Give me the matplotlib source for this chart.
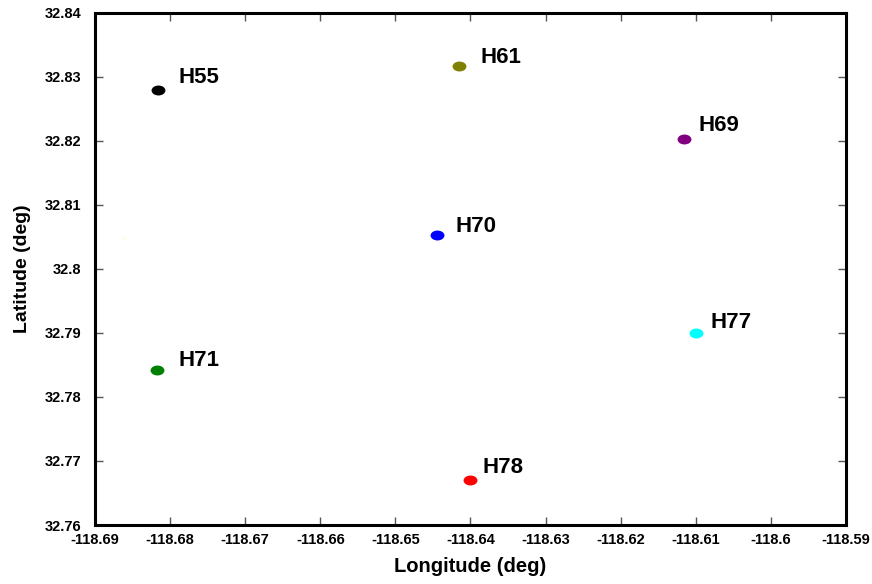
import matplotlib
matplotlib.use("Agg")
import matplotlib.pyplot as plt
from matplotlib.path import Path
from matplotlib.transforms import Affine2D

# station positions
names = ["H55", "H61", "H69", "H70", "H77", "H71", "H78"]
lons = [-118.6816, -118.6415, -118.6116, -118.6444, -118.6099, -118.6817, -118.6401]
lats = [32.8280, 32.8317, 32.8203, 32.8053, 32.7900, 32.7842, 32.7670]
colors = ["black", "#808000", "#800080", "blue", "cyan", "green", "red"]

# label offsets from each marker, in points
label_dx = [14.5, 15, 11, 13, 10, 15, 9.5]
label_dy = [5, 2, 6, 2, 3.5, 3, 5]

# faint unlabeled point
extra_lon = [-118.6861]
extra_lat = [32.8048]

xticks = [-118.69, -118.68, -118.67, -118.66, -118.65, -118.64, -118.63,
          -118.62, -118.61, -118.6, -118.59]
xticklabels = ["-118.69", "-118.68", "-118.67", "-118.66", "-118.65", "-118.64",
               "-118.63", "-118.62", "-118.61", "-118.6", "-118.59"]
yticks = [32.76, 32.77, 32.78, 32.79, 32.8, 32.81, 32.82, 32.83, 32.84]
yticklabels = ["32.76", "32.77", "32.78", "32.79", "32.8", "32.81", "32.82", "32.83", "32.84"]

plt.rcParams['font.family'] = ['Liberation Sans', 'DejaVu Sans']
plt.rcParams['font.weight'] = 'bold'

fig = plt.figure(figsize=(8.72, 5.84), dpi=100)
ax = fig.add_axes([0.109, 0.101, 0.861, 0.877])

ellipse = Path.unit_circle().transformed(Affine2D().scale(1.4, 1.0))

for name, x, y, c, dx, dy in zip(names, lons, lats, colors, label_dx, label_dy):
    ax.plot([x], [y], linestyle='none', marker=ellipse, markersize=10,
            color=c, markeredgewidth=0)
    ax.annotate(name, (x, y), xytext=(dx, dy), textcoords='offset points',
                fontsize=16, fontweight='bold', color='black')

ax.plot(extra_lon, extra_lat, linestyle='none', marker='o', markersize=1.5,
        color='#ffff99', markeredgewidth=0)

ax.set_xlim(-118.69, -118.59)
ax.set_ylim(32.76, 32.84)
ax.set_xticks(xticks)
ax.set_xticklabels(xticklabels)
ax.set_yticks(yticks)
ax.set_yticklabels(yticklabels)
ax.tick_params(direction='in', length=6, width=1, color='#555555',
               top=True, right=True, labelsize=10.5)
ax.tick_params(axis='x', pad=6)
ax.tick_params(axis='y', pad=10)
for lbl in ax.get_xticklabels() + ax.get_yticklabels():
    lbl.set_fontweight('bold')
for s in ax.spines.values():
    s.set_linewidth(2.2)

ax.set_xlabel("Longitude (deg)", fontsize=14.5, fontweight='bold', labelpad=7)
ax.set_ylabel("Latitude (deg)", fontsize=14, fontweight='bold', labelpad=10)

fig.savefig("out.png", dpi=100)
